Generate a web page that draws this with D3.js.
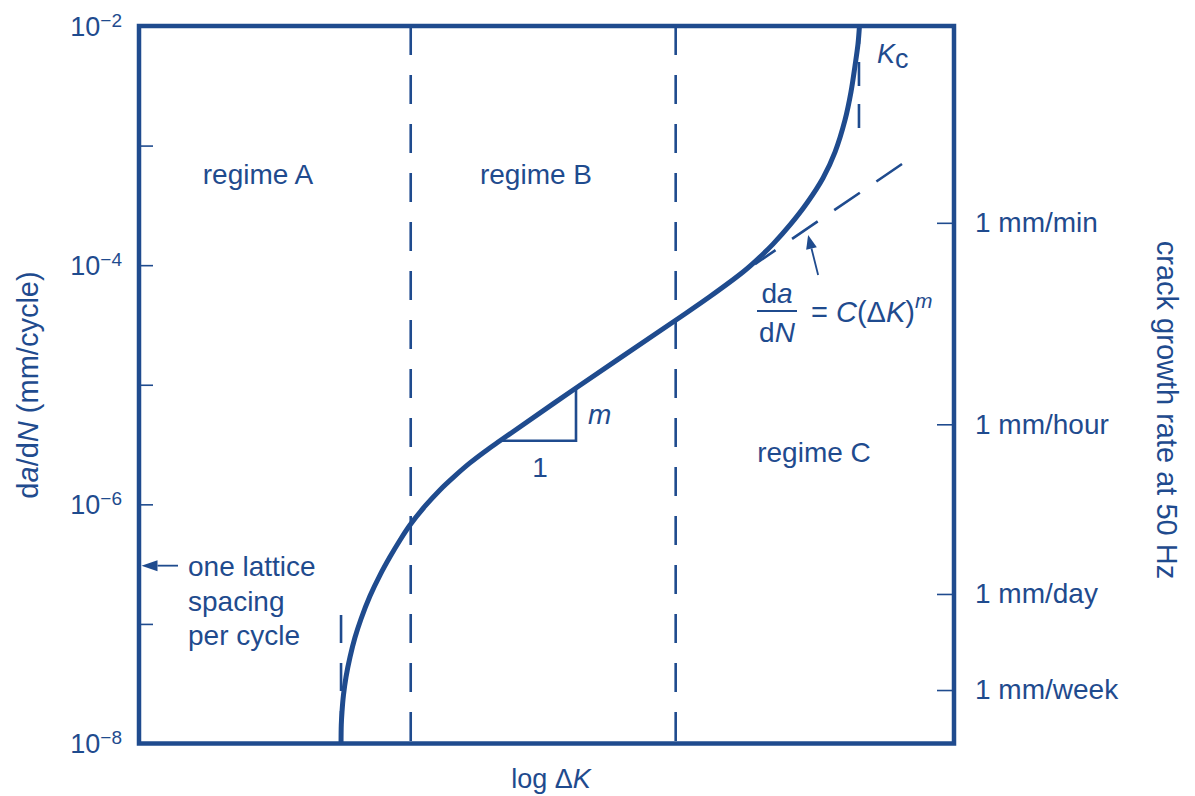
<!DOCTYPE html>
<html>
<head>
<meta charset="utf-8">
<script src="https://cdn.jsdelivr.net/npm/d3@7"></script>
<style>
  html, body { margin: 0; padding: 0; background: #ffffff; }
  svg { display: block; font-family: "Liberation Sans", Arial, Helvetica, sans-serif; }
</style>
</head>
<body>
<svg id="chart" width="1195" height="796"></svg>
<script>
// ---- data -------------------------------------------------------------
// Position along the log ΔK axis (arbitrary units, the axis carries no ticks)
const curveLogDK = [2.479, 2.482, 2.491, 2.509, 2.540, 2.589, 2.650, 2.724, 2.834, 2.957,
                    3.080, 3.202, 3.325, 3.509, 3.693, 3.877, 4.061, 4.245, 4.429, 5.362,
                    6.589, 7.006, 7.411, 7.595, 7.779, 7.988, 8.196, 8.393, 8.540, 8.663,
                    8.736, 8.785, 8.822, 8.840];
// Crack growth rate da/dN (mm/cycle)
const curveRate = [1e-8, 1.43e-8, 1.85e-8, 2.55e-8, 3.60e-8, 5.28e-8, 7.69e-8, 1.10e-7, 1.71e-7, 2.56e-7,
                   3.64e-7, 5.01e-7, 6.71e-7, 9.64e-7, 1.32e-6, 1.73e-6, 2.22e-6, 2.77e-6, 3.40e-6, 9.40e-6,
                   3.48e-5, 5.47e-5, 8.77e-5, 1.13e-4, 1.50e-4, 2.17e-4, 3.31e-4, 5.36e-4, 8.83e-4, 1.64e-3,
                   2.81e-3, 4.63e-3, 7.06e-3, 1e-2];

const leftTickValues = [1e-2, 1e-3, 1e-4, 1e-5, 1e-6, 1e-7, 1e-8];
const leftLabelValues = [1e-2, 1e-4, 1e-6, 1e-8];
const leftLabelExponents = ["−2", "−4", "−6", "−8"];

// Equivalent rates at 50 Hz, in mm/cycle
const rightTickValues = [2.26e-4, 4.67e-6, 1.78e-7, 2.80e-8];
const rightTickLabels = ["1 mm/min", "1 mm/hour", "1 mm/day", "1 mm/week"];

const regimeBounds = [3.334, 6.585];
const regimeNames = ["regime A", "regime B", "regime C"];

const thresholdLogDK = 2.479;          // ΔK threshold asymptote
const thresholdRate = [1.19e-7, 1e-8];
const kcLogDK = 8.834;                 // K_c asymptote
const kcRate = [1.40e-3, 1e-2];

const parisLogDK = [9.362, 7.558];     // extension of the power-law line
const parisRate = [7.01e-4, 1.02e-4];

const slopeLogDK = [4.429, 5.362];     // slope triangle on the linear part
const slopeRate = [3.40e-6, 9.40e-6];

const latticeRate = 3.07e-7;           // one lattice spacing per cycle
const parisArrowTip = [8.21, 1.79e-4];

// ---- layout -----------------------------------------------------------
const blue = "#1f4b8e";
const x0 = 139, x1 = 954, y0 = 26, y1 = 743.5;

const svg = d3.select("#chart");

const x = d3.scaleLinear().domain([0, 10]).range([x0, x1]);
const y = d3.scaleLog().domain([1e-8, 1e-2]).range([y1, y0]);

// ---- axes ---------------------------------------------------------------
const leftAxis = d3.axisLeft(y)
  .tickValues(leftTickValues)
  .tickSizeInner(-14).tickSizeOuter(0).tickPadding(17)
  .tickFormat("");
const gl = svg.append("g").attr("transform", `translate(${x0},0)`).call(leftAxis);
gl.select(".domain").remove();
gl.selectAll(".tick line").attr("stroke", blue).attr("stroke-width", 1.6);
gl.selectAll(".tick text").each(function (d) {
  const i = leftLabelValues.indexOf(d);
  if (i < 0) return;
  const t = d3.select(this)
    .attr("fill", blue).attr("font-size", 27).attr("dy", "0.34em");
  t.append("tspan").text("10");
  t.append("tspan").attr("font-size", 19).attr("dy", -9).text(leftLabelExponents[i]);
});

const rightAxis = d3.axisRight(y)
  .tickValues(rightTickValues)
  .tickSizeInner(-17).tickSizeOuter(0).tickPadding(21)
  .tickFormat((d, i) => rightTickLabels[i]);
const gr = svg.append("g").attr("transform", `translate(${x1},0)`).call(rightAxis);
gr.select(".domain").remove();
gr.selectAll(".tick line").attr("stroke", blue).attr("stroke-width", 1.6);
gr.selectAll(".tick text").attr("fill", blue).attr("font-size", 28).attr("dy", "0.32em");

// ---- dashed guide lines -------------------------------------------------
const guides = svg.append("g").attr("fill", "none").attr("stroke", blue).attr("stroke-width", 2.6);

guides.selectAll("line.regime").data(regimeBounds).join("line")
  .attr("class", "regime")
  .attr("x1", d => x(d)).attr("x2", d => x(d))
  .attr("y1", y(1e-2)).attr("y2", y(1e-8))
  .attr("stroke-dasharray", "29,20");

guides.append("line")
  .attr("x1", x(thresholdLogDK)).attr("x2", x(thresholdLogDK))
  .attr("y1", y(thresholdRate[0])).attr("y2", y(thresholdRate[1]))
  .attr("stroke-dasharray", "28,20");

guides.append("line")
  .attr("x1", x(kcLogDK)).attr("x2", x(kcLogDK))
  .attr("y1", y(kcRate[0])).attr("y2", y(kcRate[1]))
  .attr("stroke-dasharray", "24,18");

guides.append("line")
  .attr("x1", x(parisLogDK[0])).attr("y1", y(parisRate[0]))
  .attr("x2", x(parisLogDK[1])).attr("y2", y(parisRate[1]))
  .attr("stroke-dasharray", "31,20");

// ---- slope triangle -----------------------------------------------------
svg.append("path")
  .attr("fill", "none").attr("stroke", blue).attr("stroke-width", 2.6)
  .attr("d", d3.line()([
    [x(slopeLogDK[0]), y(slopeRate[0])],
    [x(slopeLogDK[1]), y(slopeRate[0])],
    [x(slopeLogDK[1]), y(slopeRate[1])]
  ]));

// ---- crack growth curve -------------------------------------------------
const pts = curveLogDK.map((k, i) => [k, curveRate[i]]);
svg.append("path")
  .datum(pts)
  .attr("fill", "none").attr("stroke", blue).attr("stroke-width", 5)
  .attr("stroke-linejoin", "round")
  .attr("d", d3.line().x(d => x(d[0])).y(d => y(d[1])).curve(d3.curveCatmullRom.alpha(0.5)));

// ---- frame --------------------------------------------------------------
svg.append("rect")
  .attr("x", x0).attr("y", y0).attr("width", x1 - x0).attr("height", y1 - y0)
  .attr("fill", "none").attr("stroke", blue).attr("stroke-width", 4.5);

// ---- arrows -------------------------------------------------------------
function arrow(tip, tail, len, half) {
  const dx = tip[0] - tail[0], dy = tip[1] - tail[1];
  const L = Math.hypot(dx, dy), ux = dx / L, uy = dy / L;
  const bx = tip[0] - ux * len, by = tip[1] - uy * len;
  svg.append("line")
    .attr("x1", tail[0]).attr("y1", tail[1]).attr("x2", bx).attr("y2", by)
    .attr("stroke", blue).attr("stroke-width", 1.8);
  svg.append("path").attr("fill", blue)
    .attr("d", `M${tip[0]},${tip[1]}L${bx - uy * half},${by + ux * half}L${bx + uy * half},${by - ux * half}Z`);
}
const ly = y(latticeRate);
arrow([x0 + 2.5, ly], [x0 + 39, ly], 16, 5.5);
const tip = [x(parisArrowTip[0]), y(parisArrowTip[1])];
arrow(tip, [tip[0] + 10, tip[1] + 40], 14, 5.5);

// ---- text ---------------------------------------------------------------
const txt = svg.append("g").attr("fill", blue);

const regimePos = [[258, 184], [536, 184], [814, 462]];
txt.selectAll("text.regime").data(regimeNames).join("text")
  .attr("class", "regime")
  .attr("x", (d, i) => regimePos[i][0]).attr("y", (d, i) => regimePos[i][1])
  .attr("text-anchor", "middle").attr("font-size", 28)
  .text(d => d);

["one lattice", "spacing", "per cycle"].forEach((s, i) => {
  txt.append("text").attr("x", 188).attr("y", [576, 611, 645][i])
    .attr("font-size", 28).text(s);
});

// slope triangle labels
txt.append("text").attr("x", 588).attr("y", 424).attr("font-size", 28)
  .attr("font-style", "italic").text("m");
txt.append("text").attr("x", 540).attr("y", 477).attr("font-size", 28)
  .attr("text-anchor", "middle").text("1");

// K_c
const kc = txt.append("text").attr("x", 877).attr("y", 63).attr("font-size", 27);
kc.append("tspan").attr("font-style", "italic").text("K");
kc.append("tspan").attr("dy", 5).text("c");

// da/dN = C(ΔK)^m
const num = txt.append("text").attr("x", 777).attr("y", 303).attr("text-anchor", "middle").attr("font-size", 28);
num.append("tspan").text("d");
num.append("tspan").attr("font-style", "italic").text("a");
svg.append("line").attr("x1", 757).attr("x2", 797).attr("y1", 311).attr("y2", 311)
  .attr("stroke", blue).attr("stroke-width", 2);
const den = txt.append("text").attr("x", 777).attr("y", 342).attr("text-anchor", "middle").attr("font-size", 28);
den.append("tspan").text("d");
den.append("tspan").attr("font-style", "italic").text("N");
const eq = txt.append("text").attr("x", 811).attr("y", 322).attr("font-size", 29);
eq.append("tspan").text("= ");
eq.append("tspan").attr("font-style", "italic").text("C");
eq.append("tspan").text("(Δ");
eq.append("tspan").attr("font-style", "italic").text("K");
eq.append("tspan").text(")");
eq.append("tspan").attr("font-style", "italic").attr("font-size", 21).attr("dy", -14).text("m");

// axis titles
const xt = txt.append("text").attr("x", 551).attr("y", 788).attr("text-anchor", "middle").attr("font-size", 27);
xt.append("tspan").text("log Δ");
xt.append("tspan").attr("font-style", "italic").text("K");

const ytl = txt.append("text").attr("transform", "translate(38,385) rotate(-90)")
  .attr("text-anchor", "middle").attr("font-size", 29);
ytl.append("tspan").text("d");
ytl.append("tspan").attr("font-style", "italic").text("a");
ytl.append("tspan").text("/d");
ytl.append("tspan").attr("font-style", "italic").text("N");
ytl.append("tspan").text(" (mm/cycle)");

txt.append("text").attr("transform", "translate(1157,410) rotate(90)")
  .attr("text-anchor", "middle").attr("font-size", 29)
  .text("crack growth rate at 50 Hz");
</script>
</body>
</html>
